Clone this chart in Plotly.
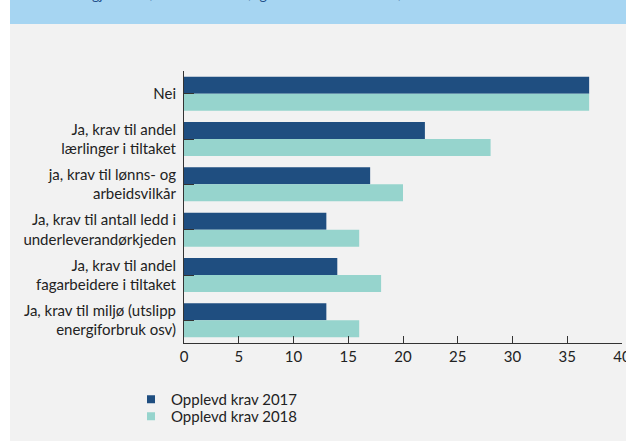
import plotly.graph_objects as go

# Categories (top to bottom) and shares per year
categories = [
    "Nei",
    "Ja, krav til andel<br>lærlinger i tiltaket",
    "ja, krav til lønns- og<br>arbeidsvilkår",
    "Ja, krav til antall ledd i<br>underleverandørkjeden",
    "Ja, krav til andel<br>fagarbeidere i tiltaket",
    "Ja, krav til miljø (utslipp<br>energiforbruk osv)",
]
krav_2017 = [37, 22, 17, 13, 14, 13]
krav_2018 = [37, 28, 20, 16, 18, 16]
series_names = ["Opplevd krav 2017", "Opplevd krav 2018"]
x_ticks = [0, 5, 10, 15, 20, 25, 30, 35, 40]

DARK = "#1f4e80"
TEAL = "#96d4cd"
TEXT = "#222222"
FONT = "Lato"

W, H = 626, 441
L, R, T, B = 184, 4, 71, 98
pw, ph = W - L - R, H - T - B


def px_x(p):
    return (p - L) / pw


def px_y(p):
    return (H - B - p) / ph


fig = go.Figure()
legend_ids = ["legend", "legend2"]
for name, vals, col, lg in zip(series_names, [krav_2017, krav_2018],
                               [DARK, TEAL], legend_ids):
    fig.add_trace(go.Bar(
        y=categories, x=vals, orientation="h", name=name,
        marker=dict(color=col, line=dict(width=0)),
        showlegend=False,
    ))
    # small square swatch for the legend entry
    fig.add_trace(go.Scatter(
        x=[None], y=[None], mode="markers", name=name, legend=lg,
        marker=dict(symbol="square", size=8, color=col),
        showlegend=True,
    ))

shapes = [
    # grey panel
    dict(type="rect", xref="paper", yref="paper", layer="below",
         x0=px_x(10), x1=px_x(W + 5), y0=px_y(H + 5), y1=px_y(24),
         fillcolor="#f2f2f2", line=dict(width=0)),
    # light blue title band
    dict(type="rect", xref="paper", yref="paper", layer="below",
         x0=px_x(10), x1=px_x(W + 5), y0=px_y(24), y1=px_y(-5),
         fillcolor="#a6d5f2", line=dict(width=0)),
]

legend_style = dict(xanchor="left", yanchor="top", bgcolor="rgba(0,0,0,0)",
                    font=dict(size=15, color=TEXT), itemwidth=30)

fig.update_layout(
    width=W, height=H,
    margin=dict(l=L, r=R, t=T, b=B, pad=0, autoexpand=False),
    paper_bgcolor="white",
    plot_bgcolor="rgba(0,0,0,0)",
    barmode="group", bargap=0.25, bargroupgap=0,
    font=dict(family=FONT, size=15, color=TEXT),
    shapes=shapes,
    annotations=[dict(
        text="Har du gjennomført anbud med følgende krav til leverandør?",
        xref="paper", yref="paper", x=px_x(45), y=px_y(5),
        xanchor="left", yanchor="bottom", showarrow=False,
        font=dict(family=FONT, size=14, color="#1f4e89"),
    )],
    legend=dict(x=px_x(131), y=px_y(383), **legend_style),
    legend2=dict(x=px_x(131), y=px_y(400), **legend_style),
    xaxis=dict(
        range=[0, 40], tickvals=x_ticks, ticks="inside", ticklen=7,
        tickcolor="#333", showline=True, linecolor="#333", linewidth=1,
        showgrid=False, zeroline=False, tickfont=dict(size=15),
        ticklabeloverflow="allow", automargin=False,
    ),
    yaxis=dict(
        autorange="reversed", ticks="inside", ticklen=10, tickcolor="#333",
        showline=True, linecolor="#333", linewidth=1, showgrid=False,
        zeroline=False, ticklabelstandoff=4, tickfont=dict(size=15),
        automargin=False,
    ),
)

fig.write_html("out.html")
